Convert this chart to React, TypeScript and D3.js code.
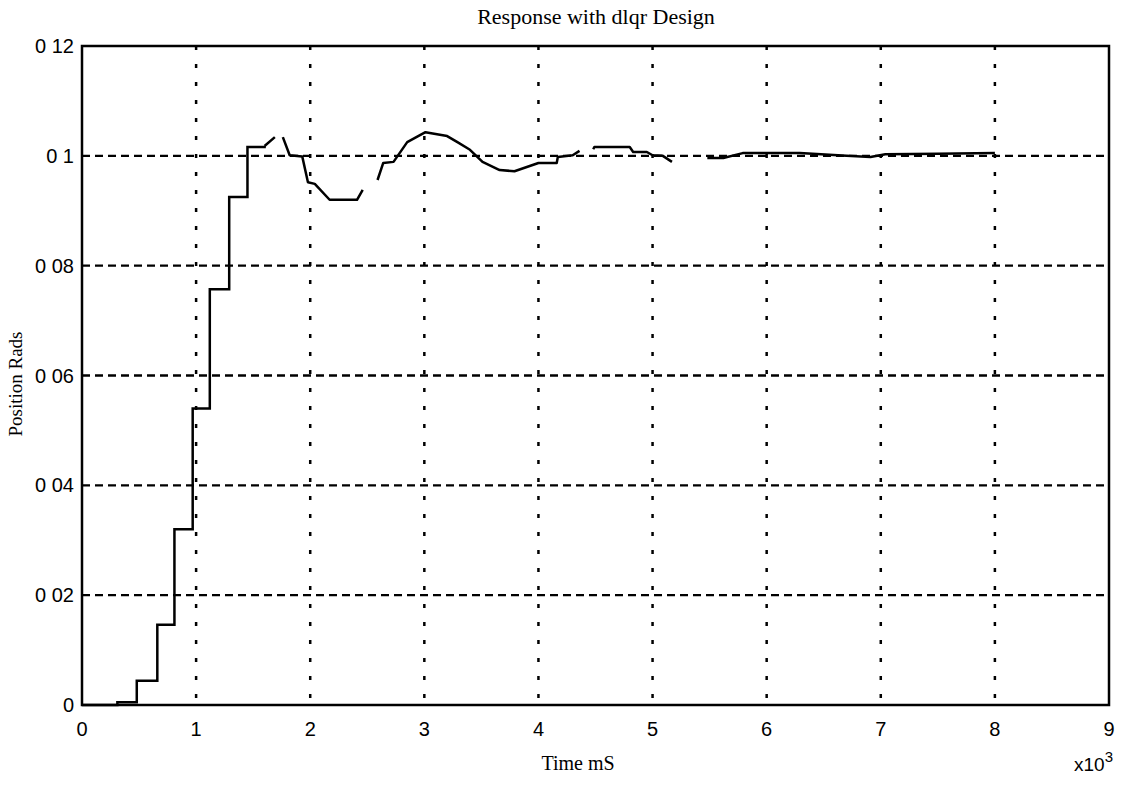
import React from 'react';
import * as d3 from 'd3';

// staircase part (sampled output, held between samples)
const stepTimes = [0, 0.31, 0.48, 0.66, 0.81, 0.97, 1.12, 1.29, 1.45, 1.6];
const stepValues = [0, 0.0005, 0.0044, 0.0146, 0.032, 0.054, 0.0757, 0.0925, 0.1016, 0.1018];

// continuous trace after the rise, null = gap in the printed trace
const traceTimes = [
  1.6, 1.69, null, 1.76, 1.82, 1.93, 1.98, 2.04, 2.17, 2.41, 2.46, null,
  2.59, 2.64, 2.73, 2.85, 3.01, 3.2, 3.29, 3.4, 3.51, 3.66, 3.79, 4.0, 4.16, 4.17, 4.3, 4.36, null,
  4.48, 4.49, 4.8, 4.83, 4.95, 5.0, 5.09, 5.17, null,
  5.48, 5.62, 5.79, 6.0, 6.29, 6.7, 6.91, 7.04, 7.5, 8.0,
];
const traceValues = [
  0.1018, 0.1034, null, 0.1034, 0.1001, 0.0999, 0.0952, 0.0949, 0.092, 0.092, 0.0938, null,
  0.0956, 0.0987, 0.0989, 0.1025, 0.1043, 0.1036, 0.1025, 0.1011, 0.0989, 0.0974, 0.0972, 0.0987, 0.0987, 0.0998, 0.1001, 0.1009, null,
  0.1012, 0.1016, 0.1016, 0.1007, 0.1007, 0.1001, 0.1, 0.0989, null,
  0.0996, 0.0996, 0.1005, 0.1005, 0.1005, 0.1, 0.0998, 0.1003, 0.1004, 0.1005,
];

const xTicks = [0, 1, 2, 3, 4, 5, 6, 7, 8, 9];
const yTicks = [0, 0.02, 0.04, 0.06, 0.08, 0.1, 0.12];
const yTickLabels = ['0', '0 02', '0 04', '0 06', '0 08', '0 1', '0 12'];

export default function App() {
  const width = 1132;
  const height = 797;
  const margin = { top: 46, right: 23, bottom: 92, left: 82 };
  const innerWidth = width - margin.left - margin.right;
  const innerHeight = height - margin.top - margin.bottom;

  const x = d3.scaleLinear().domain([0, 9]).range([0, innerWidth]);
  const y = d3.scaleLinear().domain([0, 0.12]).range([innerHeight, 0]);

  const stepData = stepTimes.map((t, i) => [t, stepValues[i]] as [number, number]);
  const traceData = traceTimes.map((t, i) => [t, traceValues[i]] as [number | null, number | null]);

  const stepLine = d3.line<[number, number]>()
    .x(d => x(d[0]))
    .y(d => y(d[1]))
    .curve(d3.curveStepAfter);

  const traceLine = d3.line<[number | null, number | null]>()
    .defined(d => d[0] != null && d[1] != null)
    .x(d => x(d[0] as number))
    .y(d => y(d[1] as number));

  const serif = '"Liberation Serif", "Times New Roman", serif';
  const sans = '"Liberation Sans", Arial, sans-serif';

  return (
    <div style={{ position: 'absolute', left: 0, top: 0 }}>
      <svg width={width} height={height} style={{ display: 'block', background: '#ffffff' }}>
        <text x={596} y={24} textAnchor="middle" fontFamily={serif} fontSize={22} fill="#000">
          Response with dlqr Design
        </text>

        <g transform={`translate(${margin.left},${margin.top})`}>
          {/* grid */}
          {yTicks.slice(1, -1).map(t => (
            <line key={'h' + t} x1={0} x2={innerWidth} y1={y(t)} y2={y(t)}
              stroke="#000" strokeWidth={2.4} strokeDasharray="8,5" />
          ))}
          {xTicks.slice(1, -1).map(t => (
            <line key={'v' + t} x1={x(t)} x2={x(t)} y1={0} y2={innerHeight}
              stroke="#000" strokeWidth={2.5} strokeDasharray="4,14" />
          ))}

          {/* response */}
          <path d={stepLine(stepData) || ''} fill="none" stroke="#000" strokeWidth={2.5} />
          <path d={traceLine(traceData) || ''} fill="none" stroke="#000" strokeWidth={2.5} strokeLinejoin="round" />

          {/* frame */}
          <rect x={0} y={0} width={innerWidth} height={innerHeight} fill="none" stroke="#000" strokeWidth={2.5} />

          {/* y ticks */}
          {yTicks.map((t, i) => (
            <text key={'yl' + t} x={-8} y={y(t)} dy="0.35em" textAnchor="end"
              fontFamily={sans} fontSize={20} fill="#000">
              {yTickLabels[i]}
            </text>
          ))}

          {/* x ticks */}
          {xTicks.map(t => (
            <text key={'xl' + t} x={x(t)} y={innerHeight + 31} textAnchor="middle"
              fontFamily={sans} fontSize={20} fill="#000">
              {t}
            </text>
          ))}
        </g>

        <text x={578} y={770} textAnchor="middle" fontFamily={serif} fontSize={20} fill="#000">
          Time mS
        </text>
        <text x={1074} y={771} fontFamily={sans} fontSize={19} fill="#000">
          x10
          <tspan dy={-9} fontSize={15}>3</tspan>
        </text>
        <text transform={`translate(22,384) rotate(-90)`} textAnchor="middle"
          fontFamily={serif} fontSize={19} fill="#000">
          Position Rads
        </text>
      </svg>
    </div>
  );
}
